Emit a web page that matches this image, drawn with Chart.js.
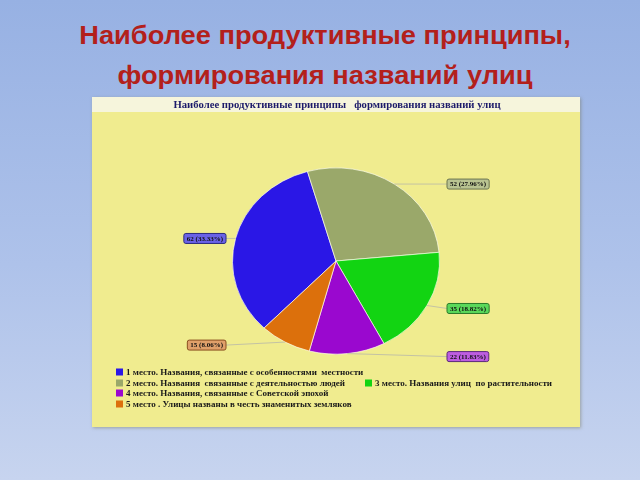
<!DOCTYPE html>
<html><head><meta charset="utf-8">
<script src="https://cdn.jsdelivr.net/npm/chart.js@4"></script>
<style>
html,body{margin:0;padding:0;width:640px;height:480px;overflow:hidden;}
body{background:linear-gradient(180deg,#97b1e3 0%,#aec2ea 55%,#c7d4ef 100%);position:relative;font-family:"Liberation Sans",Arial,sans-serif;}
.t{position:absolute;left:0;width:650px;text-align:center;color:#b3201b;font-weight:bold;font-size:25px;line-height:25px;white-space:nowrap;transform:scaleX(1.09);transform-origin:325px 0;}
#panel{position:absolute;left:92px;top:97px;width:488px;height:330px;box-shadow:1px 1px 3px rgba(120,120,90,0.5);}
</style></head>
<body>
<div class="t" style="top:23px">Наиболее продуктивные принципы,</div>
<div class="t" style="top:63px">формирования названий улиц</div>
<div id="panel"><canvas id="c"></canvas></div>
<script>
const chartTitle = "Наиболее продуктивные принципы   формирования названий улиц";
const categories = [
  "1 место. Названия, связанные с особенностями  местности",
  "2 место. Названия  связанные с деятельностью людей",
  "3 место. Названия улиц  по растительности",
  "4 место. Названия, связанные с Советской эпохой",
  "5 место . Улицы названы в честь знаменитых земляков"
];
const values = [62, 52, 35, 22, 15];
const sliceColors = ["#2a17e6", "#9aa86a", "#12d412", "#9a08cf", "#dc700c"];
const boxColors = ["#6a62e6", "#b9c391", "#5ad85a", "#bd5de0", "#e0a06a"];
const boxBorders = ["#2a2a80", "#6a7450", "#2a7a2a", "#5a2a7a", "#8a5020"];

const SY = 0.9; // vertical squash of the pie (the reference is stretched)

const squash = {
  id: 'squash',
  beforeDatasetsDraw(chart) {
    const a = chart.getDatasetMeta(0).data[0];
    const ctx = chart.ctx;
    ctx.save();
    ctx.translate(a.x, a.y); ctx.scale(1, SY); ctx.translate(-a.x, -a.y);
  },
  afterDatasetsDraw(chart) { chart.ctx.restore(); }
};

const panelBg = {
  id: 'panelBg',
  beforeDraw(chart) {
    const ctx = chart.ctx, w = chart.width, h = chart.height;
    ctx.save();
    ctx.fillStyle = '#f0ec8f'; ctx.fillRect(0, 0, w, h);
    ctx.fillStyle = '#f6f5dc'; ctx.fillRect(0, 0, w, 15);
    ctx.fillStyle = '#1c1a6a';
    ctx.font = 'bold 10.7px "Liberation Serif", "DejaVu Serif", serif';
    ctx.textAlign = 'center'; ctx.textBaseline = 'middle';
    ctx.fillText(chartTitle, w / 2 + 1, 8);
    ctx.restore();
  }
};

function rr(ctx, x, y, w, h, r) {
  ctx.beginPath();
  ctx.moveTo(x + r, y); ctx.lineTo(x + w - r, y); ctx.quadraticCurveTo(x + w, y, x + w, y + r);
  ctx.lineTo(x + w, y + h - r); ctx.quadraticCurveTo(x + w, y + h, x + w - r, y + h);
  ctx.lineTo(x + r, y + h); ctx.quadraticCurveTo(x, y + h, x, y + h - r);
  ctx.lineTo(x, y + r); ctx.quadraticCurveTo(x, y, x + r, y); ctx.closePath();
}

const callouts = {
  id: 'callouts',
  afterDraw(chart) {
    const ctx = chart.ctx;
    const total = values.reduce((s, v) => s + v, 0);
    ctx.save();
    ctx.font = 'bold 7px "Liberation Serif", "DejaVu Serif", serif';
    ctx.textBaseline = 'middle';
    chart.getDatasetMeta(0).data.forEach((arc, i) => {
      const p = arc.getProps(['x', 'y', 'startAngle', 'endAngle', 'outerRadius'], true);
      const mid = (p.startAngle + p.endAngle) / 2;
      const ex = p.x + p.outerRadius * Math.cos(mid);
      const ey = p.y + SY * p.outerRadius * Math.sin(mid);
      const txt = values[i] + ' (' + (values[i] / total * 100).toFixed(2) + '%)';
      const tw = ctx.measureText(txt).width + 6;
      const right = Math.cos(mid) >= 0;
      const bx = right ? 355 : 134 - tw;
      const by = ey + (Math.sin(mid) > 0.3 ? 3 : 0);
      ctx.strokeStyle = '#c4c3a4'; ctx.lineWidth = 1;
      ctx.beginPath(); ctx.moveTo(ex, ey); ctx.lineTo(right ? bx : bx + tw, by); ctx.stroke();
      rr(ctx, bx, by - 5, tw, 10, 2);
      ctx.fillStyle = boxColors[i]; ctx.fill();
      ctx.strokeStyle = boxBorders[i]; ctx.stroke();
      ctx.fillStyle = '#101010'; ctx.textAlign = 'center';
      ctx.fillText(txt, bx + tw / 2, by + 0.5);
    });
    // legend
    const rows = [[0], [1, 2], [3], [4]];
    const rowY = [275, 286, 296, 307];
    const colX = [24, 273];
    ctx.font = 'bold 9px "Liberation Serif", "DejaVu Serif", serif';
    ctx.textAlign = 'left';
    rows.forEach((r, ri) => r.forEach((idx, ci) => {
      const x = colX[ci], y = rowY[ri];
      ctx.fillStyle = sliceColors[idx]; ctx.fillRect(x, y - 3.5, 7, 7);
      ctx.fillStyle = '#1a1a1a'; ctx.fillText(categories[idx], x + 10, y + 0.5);
    }));
    ctx.restore();
  }
};

new Chart(document.getElementById('c'), {
  type: 'pie',
  data: {
    labels: categories,
    datasets: [{
      data: values,
      backgroundColor: sliceColors,
      borderColor: 'rgba(255,255,240,0.7)',
      borderWidth: 1
    }]
  },
  options: {
    responsive: true,
    maintainAspectRatio: false,
    animation: false,
    rotation: -136,
    layout: { padding: { top: 60, bottom: 62, left: 100, right: 100 } },
    plugins: { legend: { display: false }, tooltip: { enabled: false }, title: { display: false } }
  },
  plugins: [panelBg, squash, callouts]
});
</script>
</body></html>
